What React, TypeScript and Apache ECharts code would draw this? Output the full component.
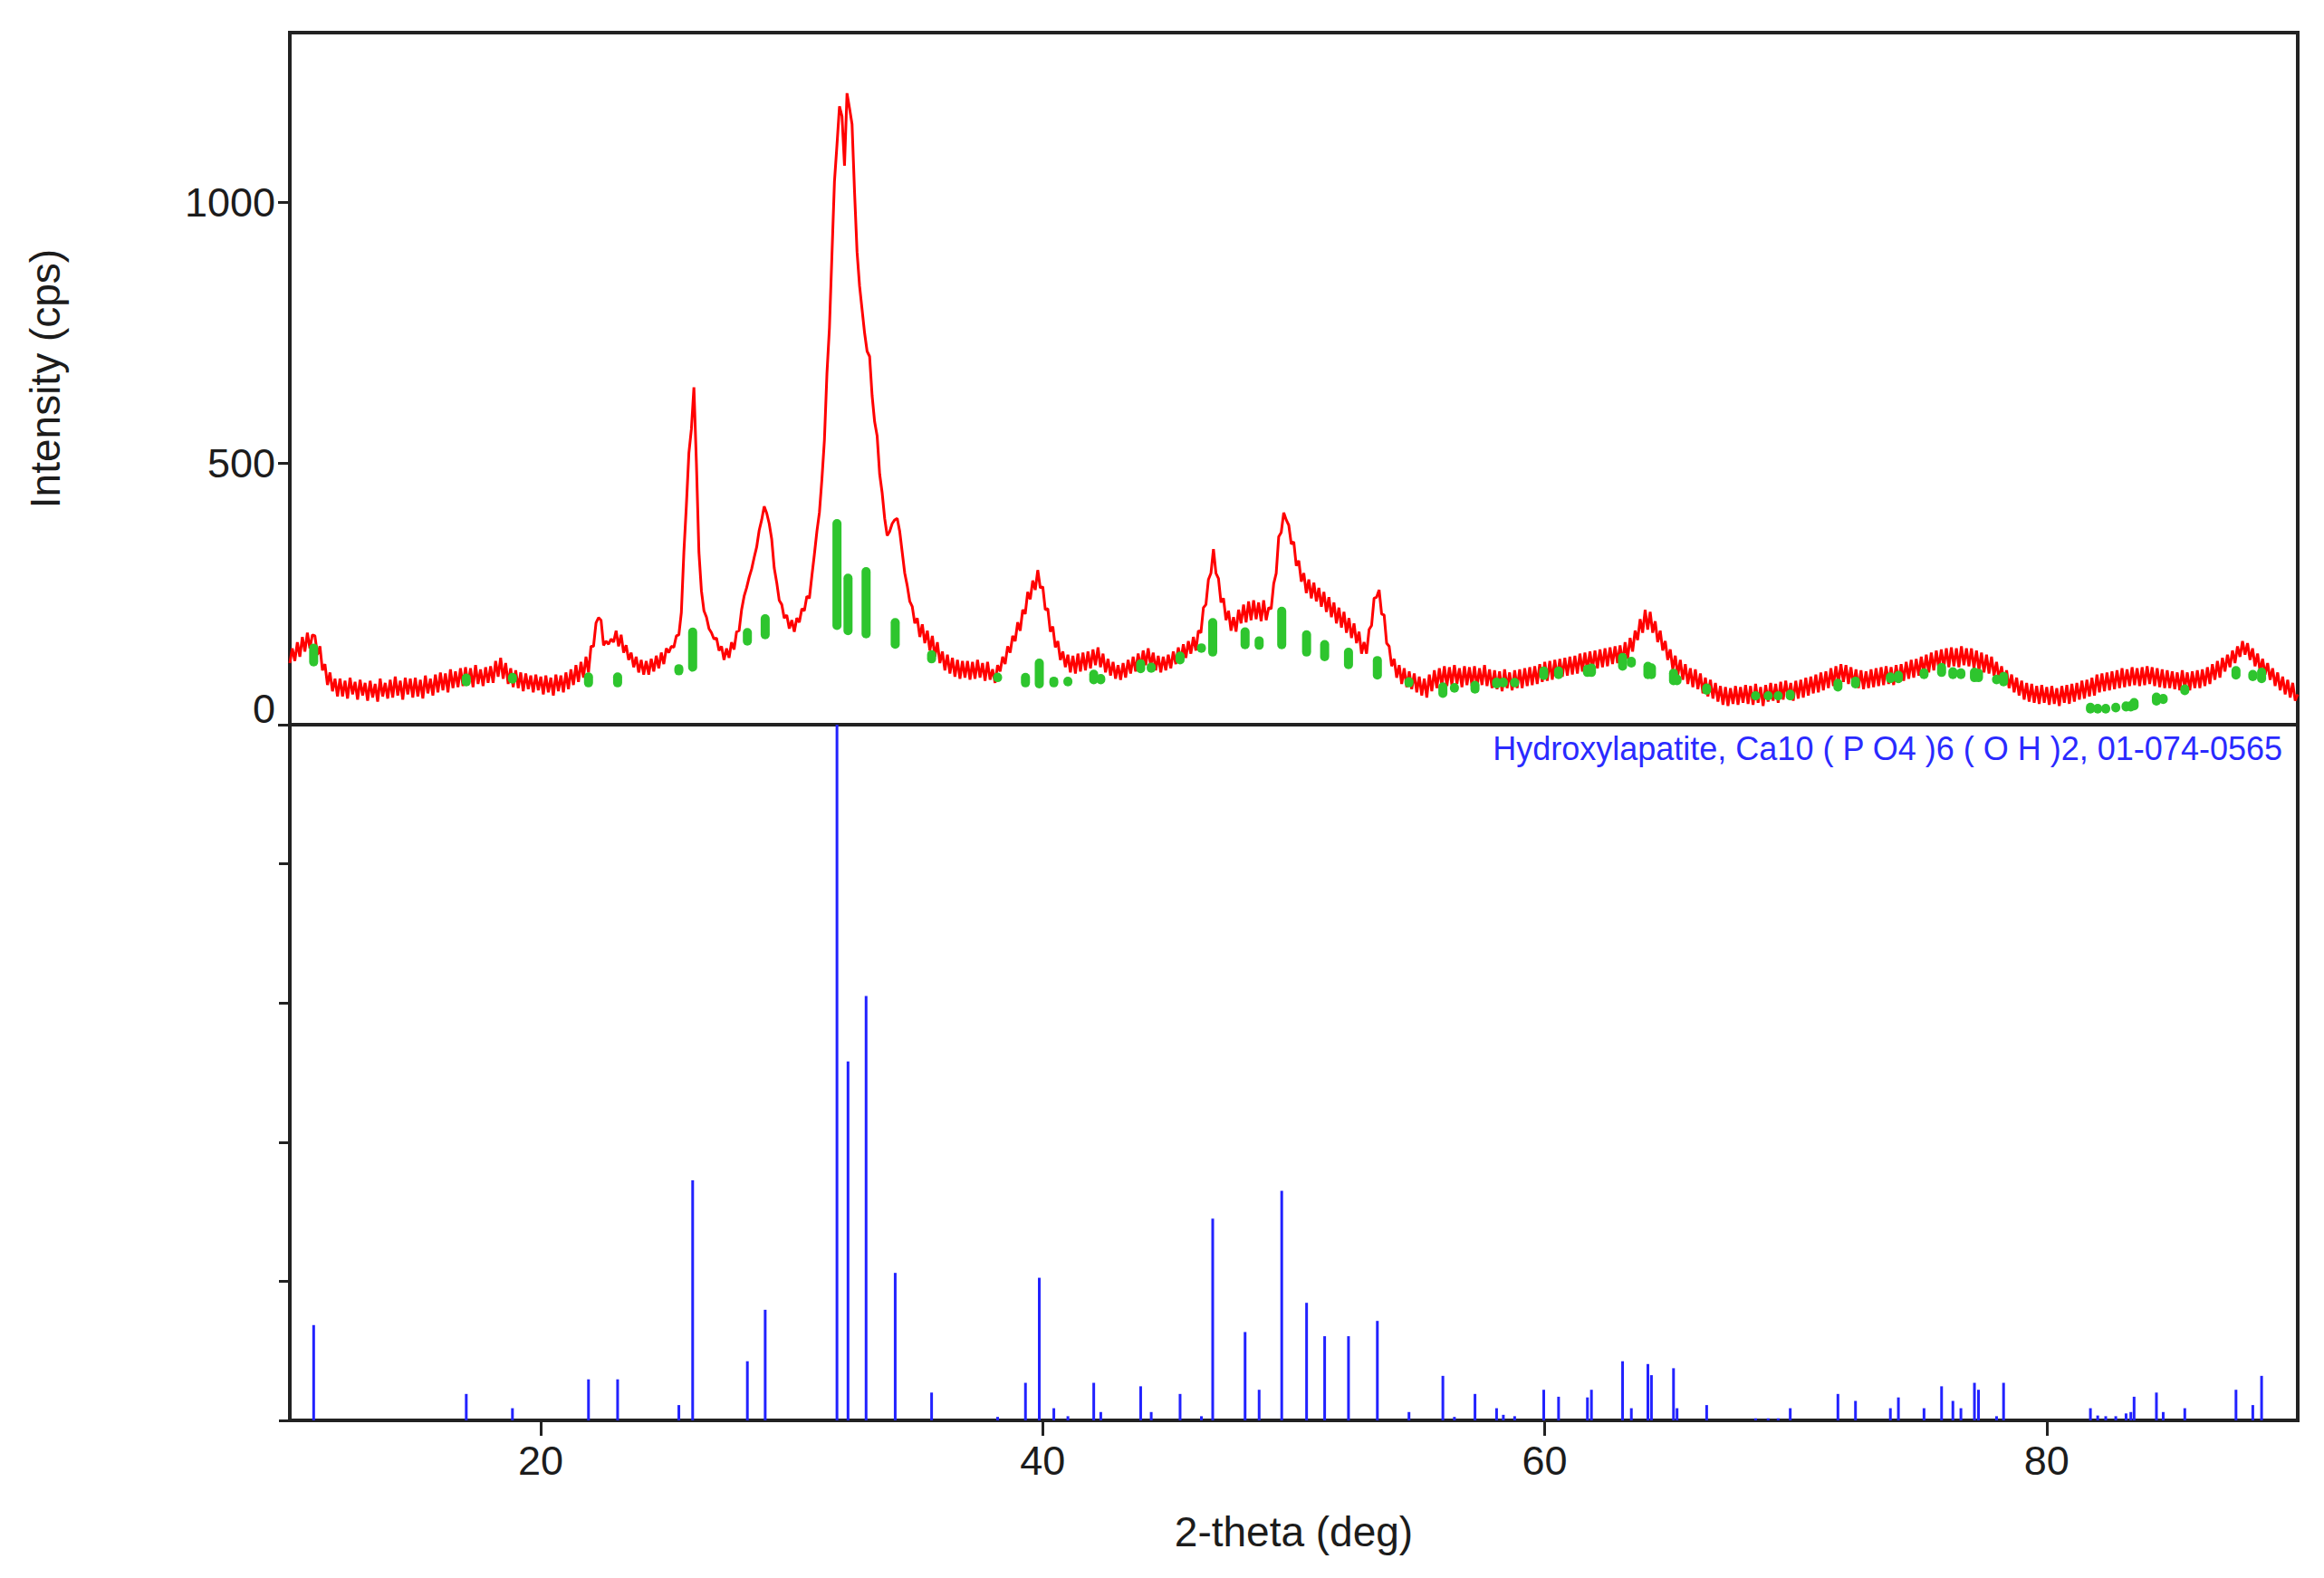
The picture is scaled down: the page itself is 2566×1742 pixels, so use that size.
import React, { useEffect, useRef } from 'react';
import * as echarts from 'echarts';

// ---- measured pattern (2-theta from 10.0 to 90.0 deg, step 0.1) ----
const X_START = 10;
const X_STEP = 0.1;
const intensity: number[] = [
  118,146,122,158,130,168,140,176,146,172,
  170,134,150,104,116,76,100,64,88,54,
  88,54,84,50,90,58,82,48,86,56,
  80,46,84,52,78,44,88,54,80,50,
  86,52,92,56,84,48,90,58,88,52,
  90,54,86,50,94,60,88,56,96,62,
  100,66,98,62,106,70,102,72,108,74,
  110,76,108,72,114,78,106,74,110,80,
  112,80,122,92,128,88,118,78,108,72,
  104,70,100,64,98,68,94,62,96,66,
  92,58,94,62,90,56,96,64,94,62,
  100,68,106,76,114,82,120,90,130,100,
  150,150,195,205,200,152,160,154,164,158,
  180,150,172,138,152,124,138,110,130,100,
  124,96,122,96,126,102,132,108,138,116,
  146,138,150,148,170,172,215,330,420,520,
  566,646,500,330,256,218,206,184,176,164,
  166,142,150,124,146,128,158,144,178,180,
  220,246,262,282,298,320,340,372,392,418,
  405,385,355,300,272,238,230,204,210,184,
  200,178,204,196,222,218,246,242,285,326,
  370,406,470,545,672,760,900,1040,1110,1184,
  1165,1070,1209,1180,1150,1020,905,840,795,750,
  715,705,630,580,553,480,444,395,362,370,
  385,392,395,370,330,290,266,236,226,194,
  204,168,192,156,180,142,170,130,158,118,
  140,104,134,98,128,92,124,88,122,90,
  122,86,120,88,124,90,118,84,120,86,
  106,80,114,102,130,116,150,138,170,160,
  196,180,220,212,254,240,276,258,296,262,
  264,220,222,178,188,148,160,124,140,110,
  134,100,132,98,136,102,138,104,140,108,
  144,114,148,110,136,100,126,94,120,88,
  114,86,118,90,124,98,130,102,136,108,
  142,114,146,112,138,104,132,100,130,104,
  134,108,140,116,148,122,154,128,160,136,
  168,142,180,176,224,230,278,290,336,290,
  280,234,242,200,218,180,206,178,220,194,
  230,196,236,200,238,202,234,198,238,200,
  224,222,270,290,360,368,406,392,382,346,
  350,304,314,274,290,252,278,242,272,236,
  262,226,254,216,244,206,234,194,224,186,
  216,176,204,166,194,156,178,136,158,136,
  182,190,242,244,258,212,210,156,150,112,
  126,90,114,78,108,72,102,68,98,62,
  92,56,88,52,96,64,104,70,108,74,
  112,74,110,76,114,78,108,72,112,76,
  110,74,112,72,108,76,114,74,106,70,
  104,68,102,64,106,70,100,66,104,70,
  106,70,108,74,110,76,112,78,116,82,
  120,84,122,86,124,90,126,92,128,94,
  130,96,132,98,136,102,138,104,140,106,
  142,108,144,110,146,112,148,116,150,118,
  152,118,158,126,166,140,180,162,202,176,
  220,182,216,176,198,158,180,142,160,124,
  144,106,132,94,124,86,116,78,108,72,
  106,68,98,60,90,54,86,50,80,44,
  74,38,72,36,70,40,74,38,72,42,
  76,40,74,38,78,42,72,36,76,44,
  80,46,78,42,82,48,84,50,80,46,
  84,50,86,52,90,56,92,60,96,62,
  100,66,102,70,108,74,112,80,116,82,
  114,78,110,74,106,70,104,68,102,70,
  106,72,108,74,110,76,112,78,110,76,
  114,80,116,84,120,88,124,90,126,94,
  130,98,134,100,138,104,142,108,144,110,
  146,110,148,112,146,110,150,114,146,112,
  146,108,142,104,138,100,134,98,130,94,
  120,86,112,78,104,70,96,62,90,56,
  84,48,80,44,78,42,74,40,76,42,
  72,38,74,40,70,36,74,42,76,40,
  78,44,80,48,84,50,86,54,90,56,
  96,62,98,64,100,66,102,68,104,70,
  108,72,106,74,110,76,108,74,110,76,
  112,78,110,74,108,72,106,70,104,70,
  102,68,100,66,104,70,100,66,102,70,
  104,70,106,74,110,78,116,86,122,90,
  128,102,134,110,142,118,150,130,160,134,
  156,124,146,112,136,102,126,96,118,86,
  108,74,100,66,92,58,86,52,80,46,
  58,
];

// ---- reference pattern (Hydroxylapatite 01-074-0565) ----
const refPos: number[] = [
  10.95, 17.03, 18.87, 21.9, 23.06, 25.5, 26.05, 28.23, 28.94, 31.8,
  32.24, 32.96, 34.12, 35.57, 38.2, 39.31, 39.86, 40.44, 41.0, 42.03,
  42.31, 43.9, 44.32, 45.47, 46.32, 46.77, 48.06, 48.62, 49.52, 50.51,
  51.23, 52.18, 53.33, 54.59, 55.94, 56.4, 57.22, 58.08, 58.35, 58.8,
  59.96, 60.55, 61.7, 61.86, 63.1, 63.45, 64.11, 64.25, 65.13, 65.27,
  66.45, 68.4, 68.9, 69.3, 69.78, 71.68, 72.38, 73.77, 74.09, 75.11,
  75.81, 76.26, 76.58, 77.12, 77.28, 78.0, 78.28, 81.74, 82.03, 82.35,
  82.75, 83.16, 83.35, 83.48, 84.37, 84.64, 85.5, 87.54, 88.21, 88.56,
];
const refInt: number[] = [
  13.7, 3.8, 1.75, 5.9, 5.9, 2.2, 34.5, 8.5, 15.9, 100,
  51.6, 61, 21.2, 4, 0.5, 5.4, 20.5, 1.75, 0.6, 5.4,
  1.2, 4.9, 1.2, 3.8, 0.6, 29, 12.7, 4.4, 33, 16.9,
  12.1, 12.1, 14.3, 1.2, 6.4, 0.5, 3.8, 1.75, 0.8, 0.6,
  4.4, 3.4, 3.3, 4.4, 8.5, 1.75, 8.1, 6.5, 7.5, 1.75,
  2.2, 0.3, 0.3, 0.3, 1.75, 3.8, 2.8, 1.75, 3.3, 1.75,
  4.9, 2.8, 1.75, 5.4, 4.4, 0.6, 5.4, 1.75, 0.7, 0.6,
  0.6, 1.0, 1.2, 3.4, 4.0, 1.2, 1.75, 4.4, 2.2, 6.4,
];
// background level (cps) on which each reference mark is drawn in the upper panel
const greenBase: number[] = [
  120, 82, 87, 80, 80, 103, 110, 160, 172, 190,
  180, 174, 154, 126, 90, 80, 78, 80, 82, 86,
  86, 107, 108, 124, 146, 139, 153, 152, 153, 139,
  130, 115, 95, 80, 60, 70, 68, 78, 80, 80,
  94, 96, 100, 100, 112, 118, 96, 96, 84, 84,
  66, 55, 55, 55, 55, 72, 78, 88, 88, 96,
  100, 96, 96, 90, 90, 86, 82, 30, 30, 30,
  32, 34, 34, 36, 45, 48, 65, 95, 92, 88,
];
const GREEN_SCALE = 1.95; // cps per % in the overlay

const yTicks = [0, 500, 1000];
const xTicks = [20, 40, 60, 80];
const relTicks = [0, 20, 40, 60, 80, 100];
const phaseLabel = 'Hydroxylapatite, Ca10 ( P O4 )6 ( O H )2, 01-074-0565';

const FONT = 'Liberation Sans, Arial, sans-serif';
const INK = '#1c1c1c';

export default function App() {
  const ref = useRef<HTMLDivElement>(null);

  useEffect(() => {
    if (!ref.current) return;
    const chart = echarts.init(ref.current, undefined, { renderer: 'svg' });

    const redData = intensity.map((v, i) => [Number((X_START + i * X_STEP).toFixed(2)), v]);
    const greenData = refPos.map((p, i) => [p, greenBase[i], greenBase[i] + refInt[i] * GREEN_SCALE]);
    const stickData = refPos.map((p, i) => [p, refInt[i]]);

    chart.setOption({
      animation: false,
      backgroundColor: '#ffffff',
      grid: [
        { left: 320, top: 36, width: 2217, height: 764, show: true, borderColor: '#222', borderWidth: 4, backgroundColor: 'transparent' },
        { left: 320, top: 800, width: 2217, height: 768, show: true, borderColor: '#222', borderWidth: 4, backgroundColor: 'transparent' },
      ],
      xAxis: [
        { type: 'value', gridIndex: 0, min: 10, max: 90, show: false, splitLine: { show: false } },
        {
          type: 'value', gridIndex: 1, min: 10, max: 90,
          name: '2-theta (deg)', nameLocation: 'middle', nameGap: 100,
          nameTextStyle: { fontSize: 46, color: INK, fontFamily: FONT },
          axisLine: { show: true, onZero: false, lineStyle: { color: '#222', width: 4 } },
          axisTick: { show: true, customValues: xTicks, length: 17, lineStyle: { color: '#222', width: 3 } },
          axisLabel: { customValues: xTicks, margin: 22, fontSize: 45, color: INK, fontFamily: FONT },
          splitLine: { show: false },
        },
      ],
      yAxis: [
        {
          type: 'value', gridIndex: 0, min: 0, max: 1325,
          name: 'Intensity (cps)', nameLocation: 'middle', nameRotate: 90, nameGap: 247,
          nameTextStyle: { fontSize: 46, color: INK, fontFamily: FONT },
          axisLine: { show: true, lineStyle: { color: '#222', width: 4 } },
          axisTick: { show: true, customValues: yTicks, length: 13, lineStyle: { color: '#222', width: 3 } },
          axisLabel: {
            customValues: yTicks, margin: 16, fontSize: 45, color: INK, fontFamily: FONT,
            formatter: (v: number) => (v === 0 ? '{z|0}' : String(v)),
            rich: { z: { fontSize: 45, color: INK, fontFamily: FONT, padding: [0, 0, 36, 0] } },
          },
          splitLine: { show: false },
        },
        {
          type: 'value', gridIndex: 1, min: 0, max: 100,
          axisLine: { show: true, lineStyle: { color: '#222', width: 4 } },
          axisTick: { show: true, customValues: relTicks, length: 12, lineStyle: { color: '#222', width: 3 } },
          axisLabel: { show: false },
          splitLine: { show: false },
        },
      ],
      series: [
        {
          type: 'line', name: 'measured', xAxisIndex: 0, yAxisIndex: 0,
          data: redData, showSymbol: false, symbol: 'none',
          lineStyle: { color: '#ff0000', width: 3 }, z: 2, clip: true,
        },
        {
          type: 'custom', name: 'overlay', xAxisIndex: 0, yAxisIndex: 0, z: 3,
          data: greenData,
          renderItem: (params: any, api: any) => {
            const a = api.coord([api.value(0), api.value(1)]);
            const b = api.coord([api.value(0), api.value(2)]);
            return {
              type: 'line',
              shape: { x1: a[0], y1: a[1], x2: b[0], y2: b[1] },
              style: { stroke: '#2ec52e', lineWidth: 10, lineCap: 'round' },
            };
          },
        },
        {
          type: 'custom', name: 'sticks', xAxisIndex: 1, yAxisIndex: 1, z: 3,
          data: stickData,
          renderItem: (params: any, api: any) => {
            const a = api.coord([api.value(0), 0]);
            const b = api.coord([api.value(0), api.value(1)]);
            return {
              type: 'line',
              shape: { x1: a[0], y1: a[1], x2: b[0], y2: b[1] },
              style: { stroke: '#2222ff', lineWidth: 3 },
            };
          },
        },
      ],
      graphic: [
        {
          type: 'text', right: 2566 - 2520, top: 808,
          style: { text: phaseLabel, fontSize: 36, fill: '#2a2aff', fontFamily: FONT, textAlign: 'right' },
        },
      ],
    });

    return () => chart.dispose();
  }, []);

  return (
    <div
      ref={ref}
      style={{ position: 'absolute', left: 0, top: 0, width: 2566, height: 1742, background: '#fff' }}
    />
  );
}
